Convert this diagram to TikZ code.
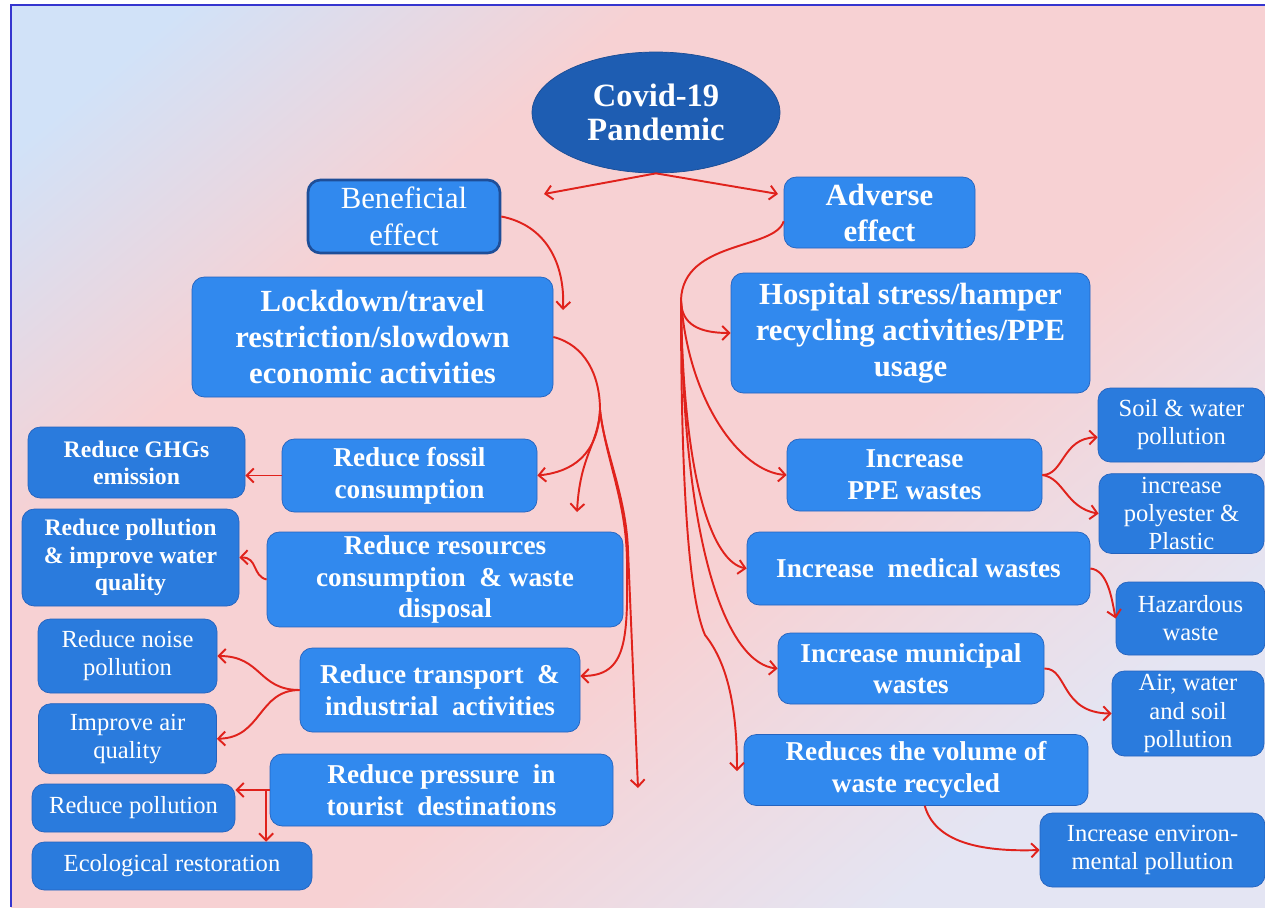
\documentclass[tikz,border=0pt]{standalone}
\usepackage{fontspec}
\setmainfont{Liberation Serif}
\usepackage{tikz}
\usetikzlibrary{shapes.geometric, arrows.meta, positioning, calc}

\definecolor{boxblue}{HTML}{3189EE}
\definecolor{leafblue}{HTML}{2A7BDD}
\definecolor{boxedge}{HTML}{2563BE}
\definecolor{benefedge}{HTML}{1E4E98}
\definecolor{ovalblue}{HTML}{1E5DB2}
\definecolor{ovaledge}{HTML}{1A4C94}
\definecolor{linkred}{HTML}{E0221C}
\definecolor{framebl}{HTML}{3535CF}
\definecolor{bgtl}{HTML}{D1E2F8}
\definecolor{bgmid}{HTML}{F7D1D3}
\definecolor{bgbr}{HTML}{E4E5F3}
\pgfdeclarehorizontalshading{bgshade}{100bp}{color(0bp)=(bgtl); color(20bp)=(bgtl); color(34bp)=(bgmid); color(57bp)=(bgmid); color(74bp)=(bgbr); color(100bp)=(bgbr)}

\begin{document}
\begin{tikzpicture}[x=0.02cm, y=-0.02cm,
        bigbox/.style={draw=boxedge, fill=boxblue, rounded corners=7pt, text=white, align=center, inner sep=2pt, font=\bfseries\fontsize{17.5}{20.5}\selectfont},
        midbox/.style={bigbox, font=\bfseries\fontsize{15.5}{18}\selectfont},
        leafbox/.style={bigbox, fill=leafblue, font=\bfseries\fontsize{13.5}{15.5}\selectfont},
        plainleaf/.style={leafbox, font=\fontsize{14}{16}\selectfont},
        boxsize/.style 2 args={minimum width=#1*0.02cm, minimum height=#2*0.02cm},
        trunk/.style={draw=linkred, line width=1.1pt},
        arrow/.style={trunk, -{Straight Barb[length=4pt, width=8pt]}}
    ]

        \useasboundingbox (0,0) rectangle (1265,907);
        \fill[white] (0,0) rectangle (1265,907);
        \shade[shading=bgshade, shading angle=-50] (11,5) rectangle (1265,907);
        \draw[framebl, line width=1.3pt] (11,907) -- (11,5) -- (1265,5);

        \node[ellipse, draw=ovaledge, fill=ovalblue, text=white, inner sep=0pt, boxsize={248}{121}, align=center, font=\bfseries\fontsize{18.5}{19.5}\selectfont] (covid) at (656,112.5) {Covid-19\\Pandemic};

        \node[bigbox, draw=benefedge, line width=1.5pt, boxsize={192}{73}, font=\fontsize{17.5}{21}\selectfont] (benefit) at (404,216.5) {Beneficial\\effect};
        \node[bigbox, boxsize={191}{71}] (adverse) at (879.5,212.5) {Adverse\\effect};
        \node[bigbox, boxsize={361}{120}] (lockdown) at (372.5,337) {Lockdown/travel\\restriction/slowdown\\economic activities};
        \node[bigbox, boxsize={359}{120}] (hospital) at (910.5,333) {Hospital stress/hamper\\recycling activities/PPE\\usage};

        \node[leafbox, boxsize={217}{71}] (ghg) at (136.5,462.5) {Reduce GHGs\\emission};
        \node[midbox, boxsize={255}{73}] (fossil) at (409.5,475.5) {Reduce fossil\\consumption};
        \node[leafbox, boxsize={217}{97}] (polwater) at (130.5,557.5) {Reduce pollution\\\& improve water\\quality};
        \node[midbox, boxsize={356}{91}] (resources) at (445,579.5) {Reduce resources\\consumption \ \& waste\\disposal};
        \node[plainleaf, boxsize={179}{74}] (noise) at (127.5,656) {Reduce noise\\pollution};
        \node[plainleaf, boxsize={178}{70}, below=10*0.02cm of noise] (airq) {Improve air\\quality};
        \node[midbox, boxsize={280}{84}] (transport) at (440,690) {Reduce transport \ \&\\industrial \ activities};
        \node[plainleaf, boxsize={203}{48}] (redpol) at (133.5,808) {Reduce pollution};
        \node[plainleaf, boxsize={280}{48}] (ecorest) at (172,866) {Ecological restoration};
        \node[midbox, boxsize={343}{72}] (pressure) at (441.5,790) {Reduce pressure \ in\\tourist \ destinations};

        \node[midbox, boxsize={255}{72}] (ppe) at (914.5,475) {Increase\\PPE wastes};
        \node[plainleaf, boxsize={167}{74}] (soilwater) at (1181.5,425) {Soil \& water\\pollution};
        \node[plainleaf, boxsize={165}{73}, below=11*0.02cm of soilwater] (polyester) {increase\\polyester \&\\Plastic};
        \node[midbox, boxsize={343}{73}] (medical) at (918.5,568.5) {Increase \ medical wastes};
        \node[plainleaf, boxsize={149}{73}] (hazard) at (1190.5,618.5) {Hazardous\\waste};
        \node[midbox, boxsize={266}{71}] (municipal) at (911,668.5) {Increase municipal\\wastes};
        \node[plainleaf, boxsize={152}{85}] (airwater) at (1188,713.5) {Air, water\\and soil\\pollution};
        \node[midbox, boxsize={344}{71}] (volume) at (916,770) {Reduces the volume of\\waste recycled};
        \node[plainleaf, boxsize={225}{74}] (envpol) at (1152.5,850) {Increase environ-\\mental pollution};

        \coordinate (bentip) at (544,194);
        \coordinate (advtip) at (778,194);
        \coordinate (locktip) at (563,310);
        \coordinate (lsplit) at (600,410);
        \coordinate (downtip) at (577,512);
        \coordinate (longtip) at (638,788);
        \coordinate (asplit) at (681,300);
        \coordinate (volumetip) at (737,771);

        \draw[arrow] (covid.south) -- (bentip);
        \draw[arrow] (covid.south) -- (advtip);
        \draw[arrow] (benefit.east) .. controls (545,225) and (565,262) .. (locktip);

        \draw[trunk] (lockdown.east) .. controls (585,345) and (600,375) .. (lsplit);
        \draw[arrow] (lsplit) .. controls (598,455) and (572,472) .. (fossil.east);
        \draw[arrow] (lsplit) .. controls (598,445) and (580,455) .. (downtip);
        \draw[arrow] (lsplit) .. controls (606,460) and (626,500) .. (627,560) .. controls (628,640) and (627,676) .. ([yshift=8pt]transport.east);
        \draw[arrow] (lsplit) .. controls (604,450) and (626,495) .. (628,550) -- (longtip);

        \draw[arrow] (fossil.west) -- (fossil.west -| ghg.east);
        \draw[arrow] (resources.west) .. controls (252,576) and (258,557) .. (polwater.east);
        \draw[arrow] (transport.west) .. controls (258,690) and (262,656) .. (noise.east);
        \draw[arrow] (transport.west) .. controls (258,690) and (262,738) .. (airq.east);
        \draw[arrow] (pressure.west) -- (pressure.west -| redpol.east);
        \draw[arrow] ([xshift=-2pt]pressure.west) -- ([xshift=-2pt]pressure.west |- ecorest.north);

        \draw[trunk] ([yshift=-5pt]adverse.west) .. controls (775,250) and (683,240) .. (asplit);
        \draw[arrow] (asplit) .. controls (681,325) and (700,333) .. (hospital.west);
        \draw[arrow] (asplit) .. controls (688,400) and (740,472) .. (ppe.west);
        \draw[arrow] (asplit) .. controls (683,480) and (712,562) .. (medical.west);
        \draw[arrow] (asplit) .. controls (683,560) and (730,664) .. (municipal.west);
        \draw[arrow] (asplit) .. controls (681,500) and (690,600) .. (705,635) .. controls (725,660) and (737,700) .. (volumetip);

        \draw[arrow] (ppe.east) .. controls (1064,475) and (1062,438) .. ([yshift=-7pt]soilwater.west);
        \draw[arrow] (ppe.east) .. controls (1064,478) and (1066,508) .. (polyester.west);
        \draw[arrow] (medical.east) .. controls (1108,570) and (1112,600) .. (hazard.west);
        \draw[arrow] (municipal.east) .. controls (1068,668) and (1060,713) .. (airwater.west);
        \draw[arrow] ([xshift=5pt]volume.south) .. controls (935,842) and (980,852) .. (envpol.west);

    \end{tikzpicture}
\end{document}
